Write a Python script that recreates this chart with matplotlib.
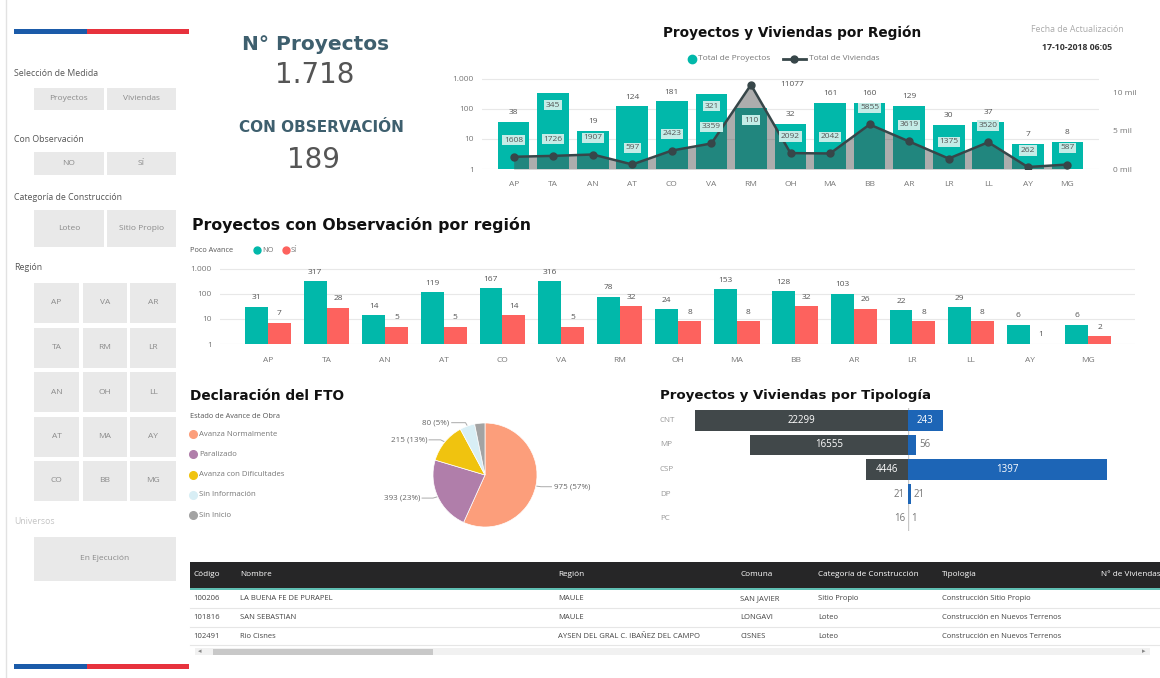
import numpy as np
import matplotlib.pyplot as plt
from matplotlib.patches import Rectangle
from matplotlib.lines import Line2D
from matplotlib.ticker import FixedLocator, NullLocator

plt.rcParams['font.family'] = ['Open Sans', 'DejaVu Sans']

# datos por region
regiones = ['AP', 'TA', 'AN', 'AT', 'CO', 'VA', 'RM', 'OH', 'MA', 'BB', 'AR', 'LR', 'LL', 'AY', 'MG']
total_proyectos = [38, 345, 19, 124, 181, 321, 110, 32, 161, 160, 129, 30, 37, 7, 8]
total_viviendas = [1608, 1726, 1907, 597, 2423, 3359, 11077, 2092, 2042, 5855, 3619, 1375, 3520, 262, 587]
obs_no = [31, 317, 14, 119, 167, 316, 78, 24, 153, 128, 103, 22, 29, 6, 6]
obs_si = [7, 28, 5, 5, 14, 5, 32, 8, 8, 32, 26, 8, 8, 1, 2]

# estado de avance (FTO)
estados = ['Avanza Normalmente', 'Paralizado', 'Avanza con Dificultades', 'Sin Información', 'Sin Inicio']
estado_valores = [975, 393, 215, 80, 55]

# tipologia
tipologias = ['CNT', 'MP', 'CSP', 'DP', 'PC']
tip_viviendas = [22299, 16555, 4446, 21, 16]
tip_proyectos = [243, 56, 1397, 21, 1]

# KPI
n_proyectos = '1.718'
n_observacion = '189'

# tabla
tabla_cols = ['Código', 'Nombre', 'Región', 'Comuna', 'Categoría de Construcción', 'Tipología', 'N° de Viviendas']
tabla_filas = [
    ['100206', 'LA BUENA FE DE PURAPEL', 'MAULE', 'SAN JAVIER', 'Sitio Propio', 'Construcción Sitio Propio', ''],
    ['101816', 'SAN SEBASTIAN', 'MAULE', 'LONGAVI', 'Loteo', 'Construcción en Nuevos Terrenos', ''],
    ['102491', 'Rio Cisnes', 'AYSEN DEL GRAL C. IBAÑEZ DEL CAMPO', 'CISNES', 'Loteo', 'Construcción en Nuevos Terrenos', ''],
]

# slicers
medidas = ['Proyectos', 'Viviendas']
observacion = ['NO', 'SÍ']
categorias = ['Loteo', 'Sitio Propio']
region_grid = [['AP', 'VA', 'AR'], ['TA', 'RM', 'LR'], ['AN', 'OH', 'LL'], ['AT', 'MA', 'AY'], ['CO', 'BB', 'MG']]

TEAL = '#01B8AA'
RED = '#FD625E'
GRAY_TXT = '#777777'
estado_colores = ['#FC9E7B', '#B07EAA', '#F0C30F', '#D8EEF5', '#A3A3A3']

W, H = 1160, 678
fig = plt.figure(figsize=(W / 100, H / 100), dpi=100)
fig.patch.set_facecolor('white')


def rect(x0, y0, x1, y1):
    return [x0 / W, 1 - y1 / H, (x1 - x0) / W, (y1 - y0) / H]


def ftext(x, y, s, **kw):
    kw.setdefault('va', 'center')
    return fig.text(x / W, 1 - y / H, s, **kw)


def fbox(x0, y0, x1, y1, color, **kw):
    fig.add_artist(Rectangle((x0 / W, 1 - y1 / H), (x1 - x0) / W, (y1 - y0) / H,
                             transform=fig.transFigure, facecolor=color, edgecolor='none', **kw))


def fline(xs, ys, **kw):
    fig.add_artist(Line2D([v / W for v in xs], [1 - v / H for v in ys], transform=fig.transFigure, **kw))


def clean(ax):
    for s in ax.spines.values():
        s.set_visible(False)


# ---------------- panel izquierdo ----------------
fline([6, 6], [0, 678], color='#e2e2e2', lw=1)
for y0, y1 in [(29, 34), (664, 669)]:
    fbox(14, y0, 87, y1, '#1B5BA9')
    fbox(87, y0, 189, y1, '#E7323D')

BTN = '#E9E9E9'
BTXT = '#8a8a8a'


def botones(labels, y0, y1):
    for (bx0, bx1), lab in zip([(34, 104), (107, 176)], labels):
        fbox(bx0, y0, bx1, y1, BTN)
        ftext((bx0 + bx1) / 2, (y0 + y1) / 2, lab, size=6, color=BTXT, ha='center')


ftext(14, 73, 'Selección de Medida', size=6.3, color='#555555')
botones(medidas, 88, 110)
ftext(14, 140, 'Con Observación', size=6.3, color='#555555')
botones(observacion, 152, 175)
ftext(14, 197, 'Categoría de Construcción', size=6.3, color='#555555')
botones(categorias, 210, 247)
ftext(14, 268, 'Región', size=6.3, color='#555555')
cols = [(34, 79), (83, 127), (130, 176)]
for r, fila in enumerate(region_grid):
    y0 = 283 + r * 44.5
    for (cx0, cx1), lab in zip(cols, fila):
        fbox(cx0, y0, cx1, y0 + 40, BTN)
        ftext((cx0 + cx1) / 2, y0 + 20, lab, size=6, color=BTXT, ha='center')
ftext(14, 522, 'Universos', size=6.3, color='#c4c4c4')
fbox(34, 537, 176, 581, BTN)
ftext(105, 559, 'En Ejecución', size=6, color=BTXT, ha='center')

# ---------------- KPI ----------------
KPI = '#3E5F6E'
ftext(316, 44, 'N° Proyectos', size=14.5, weight='bold', color=KPI, ha='center', family='DejaVu Sans')
ftext(315, 75, n_proyectos, size=20, color='#555555', ha='center', family='DejaVu Sans')
ftext(321, 127, 'CON OBSERVACIÓN', size=11, weight='bold', color=KPI, ha='center', family='DejaVu Sans')
ftext(314, 160, n_observacion, size=20, color='#555555', ha='center', family='DejaVu Sans')

ftext(1077, 30, 'Fecha de Actualización', size=6.3, color='#aaaaaa', ha='center')
ftext(1077, 47, '17-10-2018 06:05', size=6.3, color='#333333', ha='center', weight='bold')

# ---------------- Proyectos y Viviendas por Region ----------------
ftext(792, 33, 'Proyectos y Viviendas por Región', size=9.8, weight='bold', ha='center',
      family='DejaVu Sans', color='#111111')
fline([692], [59], marker='o', ms=6, color=TEAL, lw=0)
ftext(698, 59, 'Total de Proyectos', size=6, color=GRAY_TXT)
fline([783, 806], [59, 59], color='#374649', lw=2)
fline([794], [59], marker='o', ms=5, color='#374649', lw=0)
ftext(809, 59, 'Total de Viviendas', size=6, color=GRAY_TXT)

x = np.arange(len(regiones))
ax1 = fig.add_axes(rect(482, 72, 1099, 169))
ax1.bar(x, total_proyectos, width=0.8, color=TEAL, zorder=2)
ax1.set_yscale('log')
ax1.set_ylim(1, 1700)
ax1.set_xlim(-0.8, 14.8)
ax1.yaxis.set_major_locator(FixedLocator([1, 10, 100, 1000]))
ax1.yaxis.set_minor_locator(NullLocator())
ax1.set_yticklabels(['1', '10', '100', '1.000'])
ax1.set_xticks(x, regiones)
ax1.grid(axis='y', color='#e8e8e8', lw=0.8)
ax1.set_axisbelow(True)
ax1.tick_params(length=0, labelsize=6, labelcolor=GRAY_TXT)
ax1.tick_params(axis='x', pad=9)
ax1.tick_params(axis='y', pad=6)
clean(ax1)

ax1b = ax1.twinx()
ax1b.fill_between(x, 0, total_viviendas, color='#4a4a4a', alpha=0.45, lw=0, zorder=1)
ax1b.plot(x, total_viviendas, color='#374649', lw=1.8, marker='o', ms=5, zorder=3)
ax1b.set_ylim(0, 12760)
ax1b.set_yticks([0, 5000, 10000], ['0 mil', '5 mil', '10 mil'])
ax1b.tick_params(length=0, labelsize=6, labelcolor=GRAY_TXT, pad=10)
clean(ax1b)

en_barra = ['TA', 'VA', 'RM']
imax = int(np.argmax(total_viviendas))
for i, (reg, p, v) in enumerate(zip(regiones, total_proyectos, total_viviendas)):
    if reg in en_barra:
        ax1b.annotate(str(p), (i, p), xycoords=ax1.transData, xytext=(0, -9), textcoords='offset points',
                      ha='center', va='center', size=6, color='#555555', zorder=5,
                      bbox=dict(boxstyle='square,pad=0.2', fc='#c4ece7', ec='none'))
    else:
        ax1b.annotate(str(p), (i, p), xycoords=ax1.transData, xytext=(0, 4), textcoords='offset points',
                      ha='center', va='bottom', size=6, color='#555555', zorder=5)
    if i == imax:
        ax1b.annotate(str(v), (i, v), xytext=(30, 0), textcoords='offset points',
                      ha='center', va='center', size=6, color='#555555', zorder=5)
    else:
        ax1b.annotate(str(v), (i, v), xytext=(0, 12), textcoords='offset points',
                      ha='center', va='center', size=6, color='#555555', zorder=5,
                      bbox=dict(boxstyle='square,pad=0.2', fc='#c4ece7', ec='none'))

# ---------------- Proyectos con Observacion ----------------
ftext(192, 225, 'Proyectos con Observación por región', size=11.3, weight='bold',
      family='DejaVu Sans', color='#111111')
ftext(190, 250, 'Poco Avance', size=5.3, color='#555555')
fline([257], [250], marker='o', ms=5, color=TEAL, lw=0)
ftext(262, 250, 'NO', size=5.3, color=GRAY_TXT)
fline([286], [250], marker='o', ms=5, color=RED, lw=0)
ftext(291, 250, 'SÍ', size=5.3, color=GRAY_TXT)

ax2 = fig.add_axes(rect(220, 262, 1135, 344))
bw = 0.39
ax2.bar(x - bw / 2, obs_no, bw, color=TEAL)
ax2.bar(x + bw / 2, obs_si, bw, color=RED)
ax2.set_yscale('log')
ax2.set_ylim(1, 1900)
ax2.set_xlim(-0.82, 14.8)
ax2.yaxis.set_major_locator(FixedLocator([1, 10, 100, 1000]))
ax2.yaxis.set_minor_locator(NullLocator())
ax2.set_yticklabels(['1', '10', '100', '1.000'])
ax2.set_xticks(x, regiones)
ax2.grid(axis='y', color='#e8e8e8', lw=0.8)
ax2.set_axisbelow(True)
ax2.tick_params(length=0, labelsize=6, labelcolor=GRAY_TXT)
ax2.tick_params(axis='x', pad=9)
ax2.tick_params(axis='y', pad=6)
clean(ax2)
for serie, off in [(obs_no, -bw / 2), (obs_si, bw / 2)]:
    for i, v in enumerate(serie):
        ax2.annotate(str(v), (i + off, v), xytext=(0, 4), textcoords='offset points',
                     ha='center', va='bottom', size=6, color='#555555')

# ---------------- Declaracion del FTO ----------------
ftext(190, 396, 'Declaración del FTO', size=9.8, weight='bold', family='DejaVu Sans', color='#111111')
ftext(190, 417, 'Estado de Avance de Obra', size=5.3, color='#555555')
for k, (lab, col) in enumerate(zip(estados, estado_colores)):
    yy = 434 + k * 20.3
    fline([193], [yy], marker='o', ms=5.5, color=col, lw=0)
    ftext(199, yy, lab, size=5.6, color=GRAY_TXT)

axp = fig.add_axes(rect(433, 423, 537, 527))
total = sum(estado_valores)
wedges, _ = axp.pie(estado_valores, colors=estado_colores, startangle=90, counterclock=False,
                    radius=1, wedgeprops=dict(lw=0.5, edgecolor='white'))
axp.set_xlim(-1, 1)
axp.set_ylim(-1, 1)
for w, v in zip(wedges, estado_valores):
    pct = v / total * 100
    if pct < 4:
        continue
    ang = np.deg2rad((w.theta1 + w.theta2) / 2)
    cx, cy = np.cos(ang), np.sin(ang)
    side = 1 if cx > 0 else -1
    axp.plot([cx * 1.02, cx * 1.1, cx + side * 0.3], [cy * 1.02, cy * 1.07, cy * 1.07],
             color='#aaaaaa', lw=0.7, clip_on=False)
    axp.text(cx + side * 0.34, cy * 1.07, f'{v} ({pct:.0f}%)', size=5.8, color='#666666',
             ha='left' if side > 0 else 'right', va='center', clip_on=False)

# ---------------- Tipologia ----------------
ftext(660, 396, 'Proyectos y Viviendas por Tipología', size=9.6, weight='bold',
      family='DejaVu Sans', color='#111111')
yy = np.arange(len(tipologias))
DARK = '#41484A'
BLUE = '#1D65B6'
axL = fig.add_axes(rect(690, 408, 908, 531))
axR = fig.add_axes(rect(908, 408, 1115, 531))
axL.barh(yy, tip_viviendas, height=0.83, color=DARK)
axR.barh(yy, tip_proyectos, height=0.83, color=BLUE)
axL.set_xlim(max(tip_viviendas) * 1.024, 0)
axR.set_xlim(0, max(tip_proyectos) * 1.04)
for ax in (axL, axR):
    ax.set_ylim(len(tipologias) - 0.5, -0.5)
    ax.set_xticks([])
    ax.set_yticks([])
    clean(ax)
axR.axvline(0, color='#c8c8c8', lw=1, zorder=0)
for i, lab in enumerate(tipologias):
    axL.text(-0.138, i, lab, transform=axL.get_yaxis_transform(), size=5.8, color='#999999',
             ha='left', va='center')
for ax, vals in [(axL, tip_viviendas), (axR, tip_proyectos)]:
    lim = max(ax.get_xlim())
    for i, v in enumerate(vals):
        if v / lim > 0.1:
            ax.text(v / 2, i, str(v), size=7, color='white', ha='center', va='center')
        else:
            off = -3 if ax is axL else 3
            ax.annotate(str(v), (v, i), xytext=(off * 0.72, 0), textcoords='offset points',
                        ha='right' if ax is axL else 'left', va='center', size=7, color='#777777')

# ---------------- Tabla ----------------
fbox(190, 562, 1160, 588, '#262627')
fbox(190, 588, 1160, 589.6, '#5fbfb3')
col_x = [193, 240, 558, 740, 818, 942, 1101]
for cx, c in zip(col_x, tabla_cols):
    ftext(cx, 575, c, size=5.9, color='white')
for r, fila in enumerate(tabla_filas):
    ry = 599 + r * 18.5
    for cx, c in zip(col_x, fila):
        ftext(cx, ry, c, size=5.5, color='#444444')
    fline([190, 1160], [ry + 9, ry + 9], color='#e6e6e6', lw=0.8)
fbox(195, 648, 1150, 655, '#f1f1f1')
fbox(213, 648.5, 433, 654.5, '#c8c8c8')
ftext(200, 651, '◂', size=5, color='#888888', ha='center', family='DejaVu Sans')
ftext(1144, 651, '▸', size=5, color='#888888', ha='center', family='DejaVu Sans')

fig.savefig('out.png', dpi=100, facecolor='white')
